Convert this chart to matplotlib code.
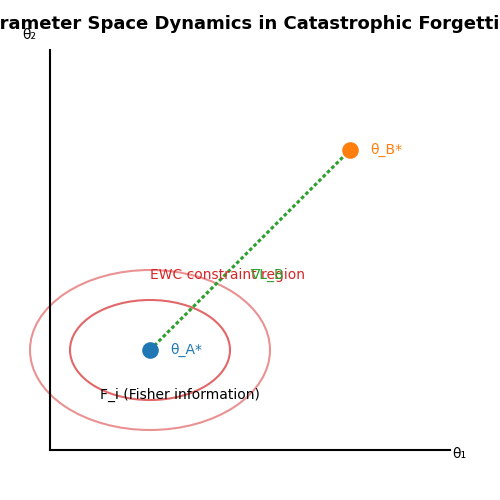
import matplotlib.pyplot as plt
from matplotlib.patches import Ellipse

theta_a = (2.5, 2.5)
theta_b = (7.5, 7.5)
ellipse_inner = (4.0, 2.5)
ellipse_outer = (6.0, 4.0)

fig = plt.figure(figsize=(5, 5), dpi=100)
ax = fig.add_axes([0.1, 0.1, 0.8, 0.8])
ax.set_xlim(0, 10)
ax.set_ylim(0, 10)
ax.spines["top"].set_visible(False)
ax.spines["right"].set_visible(False)
ax.spines["left"].set_linewidth(1.5)
ax.spines["bottom"].set_linewidth(1.5)
ax.set_xticks([])
ax.set_yticks([])

ax.add_patch(Ellipse(theta_a, *ellipse_outer, fill=False, ec="#d62728", alpha=0.5, lw=1.5, clip_on=False))
ax.add_patch(Ellipse(theta_a, *ellipse_inner, fill=False, ec="#d62728", alpha=0.7, lw=1.5))

ax.plot([theta_a[0], theta_b[0]], [theta_a[1], theta_b[1]], ls=(0, (1.2, 0.8)), color="#2ca02c", lw=2.2)
ax.scatter(*theta_a, s=120, color="#1f77b4", zorder=3)
ax.scatter(*theta_b, s=120, color="#ff7f0e", zorder=3)

ax.text(theta_a[0] + 0.5, theta_a[1], "θ_A*", color="#1f77b4", va="center", fontsize=10)
ax.text(theta_b[0] + 0.5, theta_b[1], "θ_B*", color="#ff7f0e", va="center", fontsize=10)
ax.text(2.5, 4.375, "EWC constraint region", color="#d62728", va="center", fontsize=10)
ax.text(5.0, 4.375, "∇L_B", color="#2ca02c", va="center", fontsize=10)
ax.text(1.25, 1.375, "F_i (Fisher information)", color="black", va="center", fontsize=10)

ax.text(10.05, -0.1, "θ₁", fontsize=10, va="center")
ax.text(-0.7, 10.37, "θ₂", fontsize=10, va="center")
fig.text(0.5, 0.952, "Parameter Space Dynamics in Catastrophic Forgetting",
         ha="center", va="center", fontsize=13, fontweight="bold")

fig.savefig("out.png", dpi=100)
